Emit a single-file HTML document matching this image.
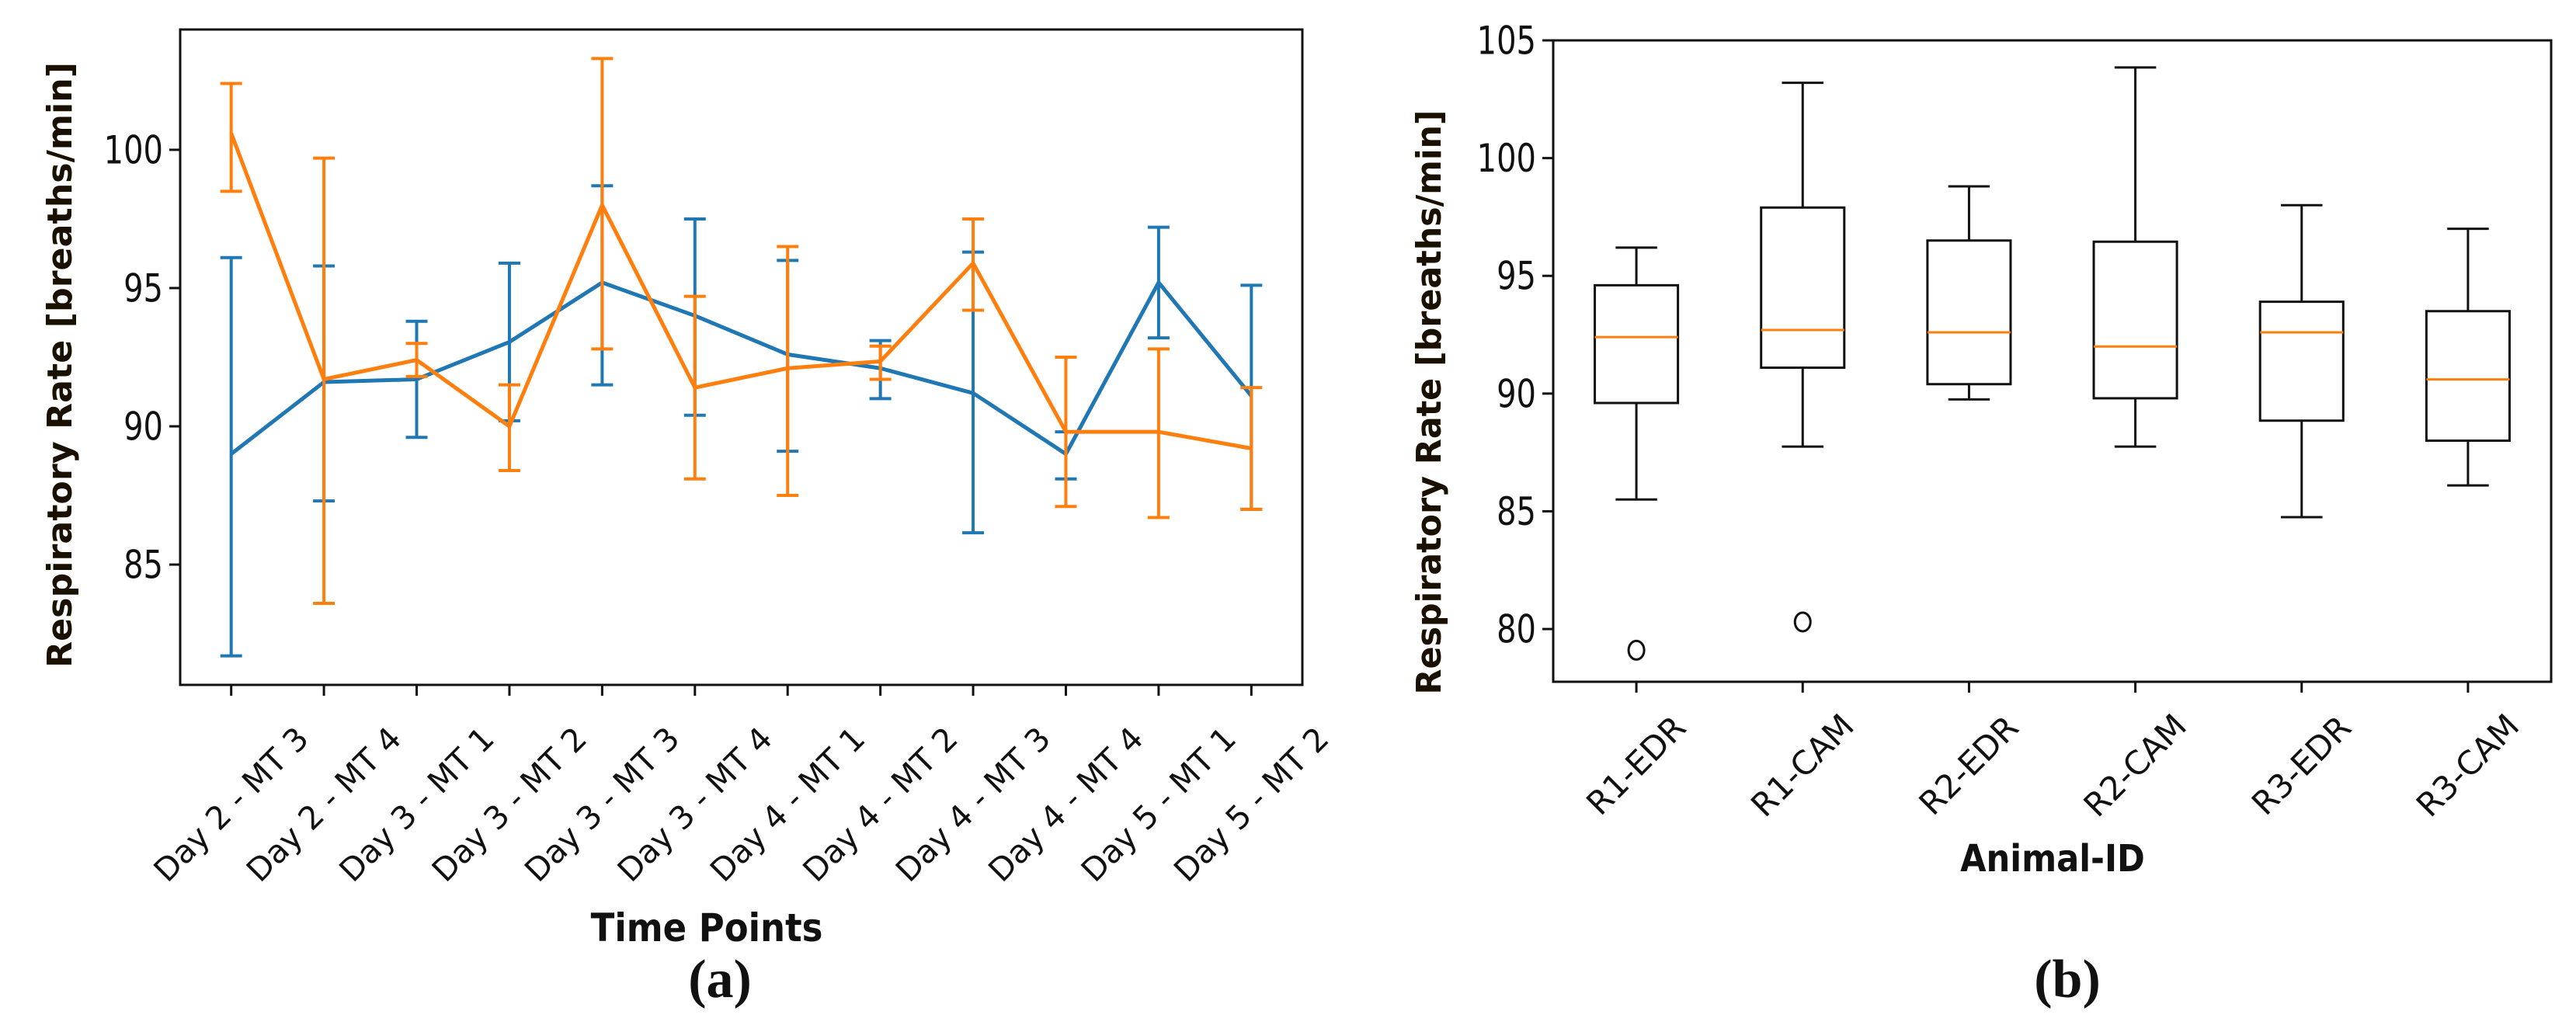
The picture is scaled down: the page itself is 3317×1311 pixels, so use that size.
<!DOCTYPE html>
<html><head><meta charset="utf-8"><style>
html,body{margin:0;padding:0;background:#fff;}
svg{display:block;}
</style></head><body>
<svg id="fig" width="3317" height="1311" viewBox="0 0 3317 1311" xmlns="http://www.w3.org/2000/svg" font-family="DejaVu Sans, Liberation Sans, sans-serif" fill="#111"></svg>
<script>
// ---- Panel (a) data ----
const timeLabels = ["Day 2 - MT 3","Day 2 - MT 4","Day 3 - MT 1","Day 3 - MT 2","Day 3 - MT 3","Day 3 - MT 4","Day 4 - MT 1","Day 4 - MT 2","Day 4 - MT 3","Day 4 - MT 4","Day 5 - MT 1","Day 5 - MT 2"];
const blueMean = [89.0,91.6,91.7,93.05,95.2,94.0,92.6,92.1,91.2,89.0,95.2,91.1];
const blueHi   = [96.1,95.8,93.8,95.9,98.7,97.5,96.0,93.1,96.3,89.8,97.2,95.1];
const blueLo   = [81.7,87.3,89.6,90.2,91.5,90.4,89.1,91.0,86.15,88.1,93.2,87.0];
const orangeMean = [100.6,91.7,92.4,90.0,98.0,91.4,92.1,92.35,95.9,89.8,89.8,89.2];
const orangeHi   = [102.4,99.7,93.0,91.5,103.3,94.7,96.5,92.9,97.5,92.5,92.8,91.4];
const orangeLo   = [98.5,83.6,91.8,88.4,92.8,88.1,87.5,91.7,94.2,87.1,86.7,87.0];
const aTicks = [85,90,95,100];
// ---- Panel (b) data ----
const animalIds = ["R1-EDR","R1-CAM","R2-EDR","R2-CAM","R3-EDR","R3-CAM"];
const boxWhiskHi = [96.2,103.2,98.8,103.85,98.0,97.0];
const boxQ3      = [94.6,97.9,96.5,96.45,93.9,93.5];
const boxMedian  = [92.4,92.7,92.6,92.0,92.6,90.6];
const boxQ1      = [89.6,91.1,90.4,89.8,88.85,88.0];
const boxWhiskLo = [85.5,87.75,89.75,87.75,84.75,86.1];
const boxOutliers = [[79.1],[80.3],[],[],[],[]];
const bTicks = [80,85,90,95,100,105];

const NS="http://www.w3.org/2000/svg";
const svg=document.getElementById('fig');
function mk(tag,attrs,parent){const e=document.createElementNS(NS,tag);for(const k in attrs)e.setAttribute(k,attrs[k]);(parent||svg).appendChild(e);return e;}

// ===== Panel a =====
const A={l:232,r:1677,t:38,b:882,ymin:80.65,ymax:104.35,xmin:-0.55,xmax:11.55};
const ax=i=>A.l+(i-A.xmin)/(A.xmax-A.xmin)*(A.r-A.l);
const ay=v=>A.b-(v-A.ymin)/(A.ymax-A.ymin)*(A.b-A.t);
const ga=mk('g',{});


aTicks.forEach(v=>{
  const l=mk('line',{x1:A.l-14,x2:A.l,y1:ay(v),y2:ay(v),stroke:'#111','stroke-width':3},ga);
  
  
  const t=mk('text',{x:A.l-22,y:0,'text-anchor':'end','font-size':40,transform:`translate(0 ${ay(v)}) scale(1 1.25) translate(0 14)`},ga);
  t.textContent=v;
  
  
});
timeLabels.forEach((s,i)=>{
  const x=ax(i);
  const l=mk('line',{x1:x,x2:x,y1:A.b,y2:A.b+14,stroke:'#111','stroke-width':3},ga);
  
  
  const cy=1036;
  const t=mk('text',{x:x,y:cy+14,'text-anchor':'middle','font-size':41,transform:`rotate(-45 ${x} ${cy})`},ga);
  t.textContent=s;
  
  
});
function series(mean,hi,lo,color,name){
  const g=mk('g',{},ga);
  
  
  mean.forEach((m,i)=>{
    const x=ax(i);
    const e=mk('line',{x1:x,x2:x,y1:ay(hi[i]),y2:ay(lo[i]),stroke:color,'stroke-width':4},g);
    
    
    [hi[i],lo[i]].forEach(v=>{
      const c=mk('line',{x1:x-14,x2:x+14,y1:ay(v),y2:ay(v),stroke:color,'stroke-width':4},g);
      
      
    });
  });
  const p=mk('polyline',{points:mean.map((m,i)=>ax(i)+','+ay(m)).join(' '),fill:'none',stroke:color,'stroke-width':5,'stroke-linejoin':'round'},g);
  
  
}
series(blueMean,blueHi,blueLo,'#1f77b4','series-blue');
series(orangeMean,orangeHi,orangeLo,'#ff7f0e','series-orange');
const fa=mk('rect',{x:A.l,y:A.t,width:A.r-A.l,height:A.b-A.t,fill:'none',stroke:'#111','stroke-width':3},ga);


let t=mk('text',{x:0,y:0,'text-anchor':'middle','font-size':44,'font-weight':'bold',textLength:780,lengthAdjust:'spacingAndGlyphs',transform:'translate(92 470) rotate(-90)',fill:'#1a1000'},ga);
t.textContent='Respiratory Rate [breaths/min]';


t=mk('text',{x:910,y:1212,'text-anchor':'middle','font-size':50,'font-weight':'bold',style:'font-family:"DejaVu Sans Condensed","Liberation Sans Narrow","Liberation Sans",sans-serif'},ga);
t.textContent='Time Points';


t=mk('text',{x:927,y:1284,'text-anchor':'middle','font-size':70,'font-weight':'bold',style:'font-family:"Liberation Serif",serif'},ga);
t.textContent='(a)';



// ===== Panel b =====
const B={l:2000,r:3285,t:52,b:878,ymin:77.76,ymax:105,xmin:0.5,xmax:6.5};
const bx=i=>B.l+(i+1-B.xmin)/(B.xmax-B.xmin)*(B.r-B.l);
const by=v=>B.b-(v-B.ymin)/(B.ymax-B.ymin)*(B.b-B.t);
const gb=mk('g',{});


bTicks.forEach(v=>{
  const l=mk('line',{x1:B.l-14,x2:B.l,y1:by(v),y2:by(v),stroke:'#111','stroke-width':3},gb);
  
  
  const t=mk('text',{x:B.l-22,y:0,'text-anchor':'end','font-size':40,transform:`translate(0 ${by(v)}) scale(1 1.25) translate(0 14)`},gb);
  t.textContent=v;
  
  
});
const unit=(B.r-B.l)/(B.xmax-B.xmin);
animalIds.forEach((s,i)=>{
  const x=bx(i);
  const l=mk('line',{x1:x,x2:x,y1:B.b,y2:B.b+14,stroke:'#111','stroke-width':3},gb);
  
  
  const cy=986;
  const t=mk('text',{x:x,y:cy+14,'text-anchor':'middle','font-size':42,transform:`rotate(-45 ${x} ${cy})`},gb);
  t.textContent=s;
  
  
  const g=mk('g',{},gb);
  
  
  const hw=unit*0.25, cw=unit*0.125;
  const st={stroke:'#111','stroke-width':3,fill:'none'};
  const w1=mk('line',Object.assign({x1:x,x2:x,y1:by(boxQ3[i]),y2:by(boxWhiskHi[i])},st),g);
  
  
  const w2=mk('line',Object.assign({x1:x,x2:x,y1:by(boxQ1[i]),y2:by(boxWhiskLo[i])},st),g);
  
  
  [boxWhiskHi[i],boxWhiskLo[i]].forEach(v=>{
    const c=mk('line',Object.assign({x1:x-cw,x2:x+cw,y1:by(v),y2:by(v)},st),g);
    
    
  });
  const r=mk('rect',Object.assign({x:x-hw,y:by(boxQ3[i]),width:2*hw,height:by(boxQ1[i])-by(boxQ3[i])},st),g);
  
  
  const m=mk('line',{x1:x-hw,x2:x+hw,y1:by(boxMedian[i]),y2:by(boxMedian[i]),stroke:'#ff7f0e','stroke-width':3},g);
  
  
  boxOutliers[i].forEach(v=>{
    const o=mk('ellipse',{cx:x,cy:by(v),rx:10,ry:12,fill:'none',stroke:'#111','stroke-width':3},g);
    
    
  });
});
const fb=mk('rect',{x:B.l,y:B.t,width:B.r-B.l,height:B.b-B.t,fill:'none',stroke:'#111','stroke-width':3},gb);


t=mk('text',{x:0,y:0,'text-anchor':'middle','font-size':44,'font-weight':'bold',textLength:753,lengthAdjust:'spacingAndGlyphs',transform:'translate(1855 518) rotate(-90)',fill:'#1a1000'},gb);
t.textContent='Respiratory Rate [breaths/min]';


t=mk('text',{x:2643,y:1122,'text-anchor':'middle','font-size':48,'font-weight':'bold',style:'font-family:"DejaVu Sans Condensed","Liberation Sans Narrow","Liberation Sans",sans-serif'},gb);
t.textContent='Animal-ID';


t=mk('text',{x:2662,y:1284,'text-anchor':'middle','font-size':70,'font-weight':'bold',style:'font-family:"Liberation Serif",serif'},gb);
t.textContent='(b)';


</script>
</body></html>
